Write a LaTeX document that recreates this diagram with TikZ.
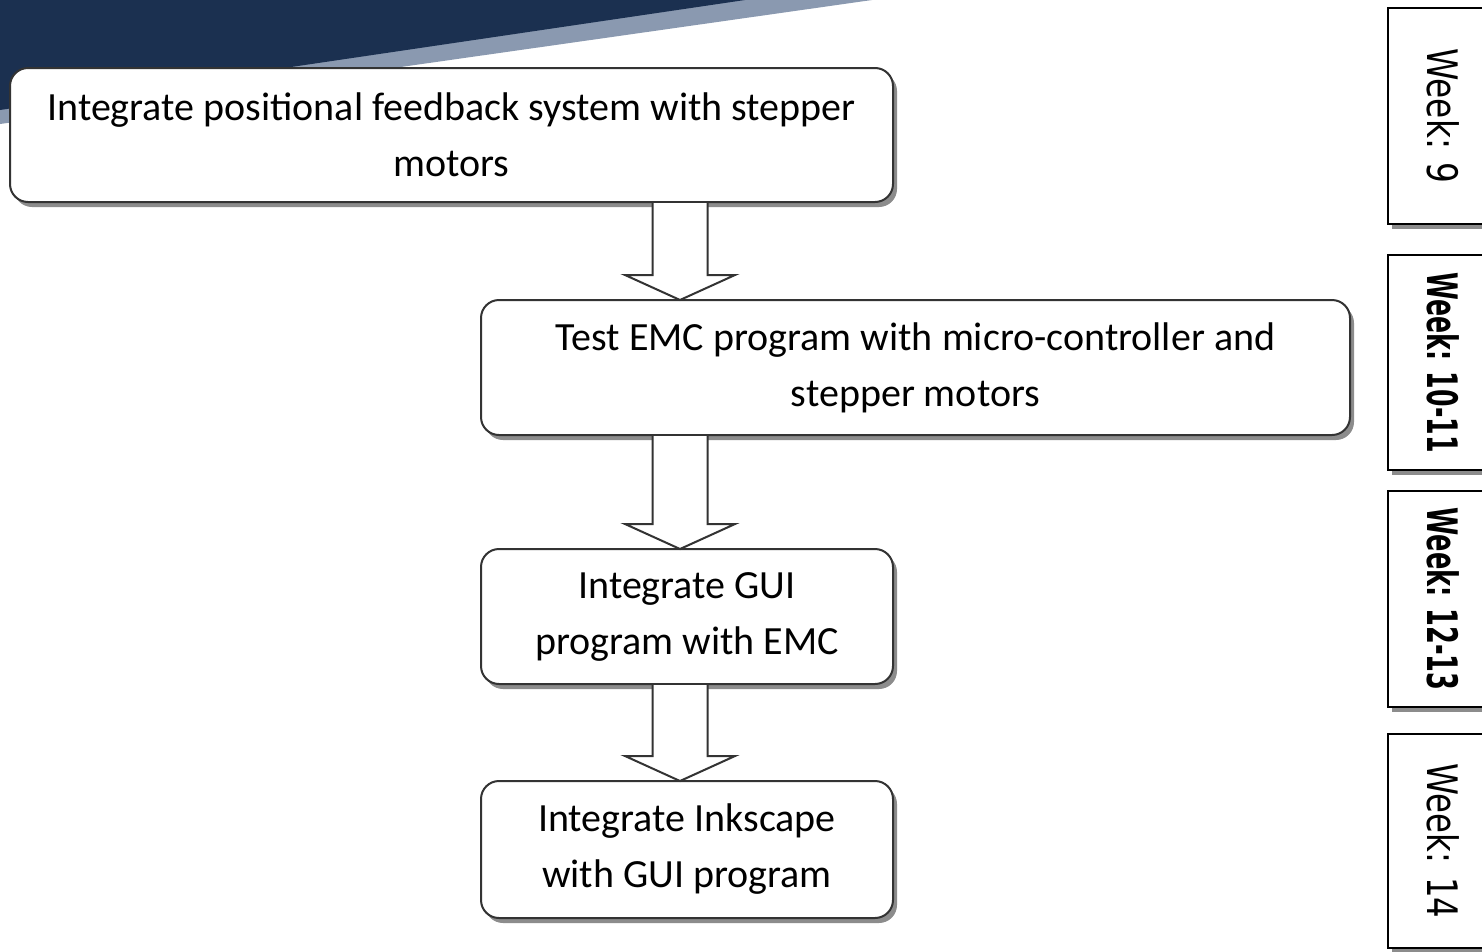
\documentclass[tikz,border=0pt]{standalone}
\usepackage{fontspec}
\setmainfont{Carlito}
\newfontfamily\wkfont{DejaVu Sans}
\usetikzlibrary{calc,shadows}
\definecolor{navy}{HTML}{1B3050}
\definecolor{stripe}{HTML}{8A99B0}
\newcommand{\wk}[2]{\rotatebox{-90}{\scalebox{#1}[1]{#2}}}
\newcommand{\blockarrow}[2]{%
  \draw[barrow] ($(ax |- #1.south)+(-27.5,1)$) -- ($(ax |- #2.north)+(-27.5,-25)$)
    -- ($(ax |- #2.north)+(-55,-25)$) -- (ax |- #2.north)
    -- ($(ax |- #2.north)+(55,-25)$) -- ($(ax |- #2.north)+(27.5,-25)$)
    -- ($(ax |- #1.south)+(27.5,1)$);}
\begin{document}
\begin{tikzpicture}[x=1pt,y=-1pt,
  box/.style={draw=black!80, line width=2pt, rounded corners=18pt, fill=white,
    drop shadow={shadow xshift=4pt, shadow yshift=-5pt, fill=black!45, opacity=1},
    align=center, font=\fontsize{40}{56}\selectfont, inner sep=0pt, outer sep=0pt},
  weekbox/.style={draw=black, line width=2pt, fill=white,
    drop shadow={shadow xshift=4pt, shadow yshift=-5pt, fill=black!45, opacity=1},
    font=\wkfont\fontsize{42}{50}\selectfont, inner sep=0pt, outer sep=0pt,
    minimum width=110pt},
  barrow/.style={draw=black!80, line width=2pt, fill=white, line join=miter}]
\useasboundingbox (0,0) rectangle (1482,951);
\clip (0,0) rectangle (1482,951);
\fill[white] (0,0) rectangle (1482,951);
% header band
\fill[stripe] (740,0) -- (872,0) -- (0,124) -- (0,108) -- cycle;
\fill[navy] (0,0) -- (745,0) -- (0,110) -- cycle;
% flow boxes
\node[box, minimum width=883pt, minimum height=134pt] (b1) at (451.5,135)
  {Integrate positional feedback system with stepper\\motors};
\node[box, minimum width=869pt, minimum height=135pt] (b2) at (915.5,367.5)
  {Test EMC program with micro-controller and\\stepper motors};
\node[box, minimum width=412pt, minimum height=135pt] (b3) at (687,616.5)
  {Integrate GUI\\program with EMC};
\node[box, minimum width=412pt, minimum height=137pt] (b4) at (687,849.5)
  {Integrate Inkscape\\with GUI program};
% block arrows
\coordinate (ax) at (680,0);
\blockarrow{b1}{b2}
\blockarrow{b2}{b3}
\blockarrow{b3}{b4}
% week boxes
\node[weekbox, minimum height=216pt] (w1) at (1443,116) {\wk{0.78}{Week: 9}};
\node[weekbox, minimum height=215pt] (w2) at (1443,362.5) {\wk{0.6}{\bfseries Week: 10-11}};
\node[weekbox, minimum height=216pt] (w3) at (1443,599) {\wk{0.61}{\bfseries Week: 12-13}};
\node[weekbox, minimum height=214pt] (w4) at (1443,841) {\wk{0.77}{Week: 14}};
\end{tikzpicture}
\end{document}
